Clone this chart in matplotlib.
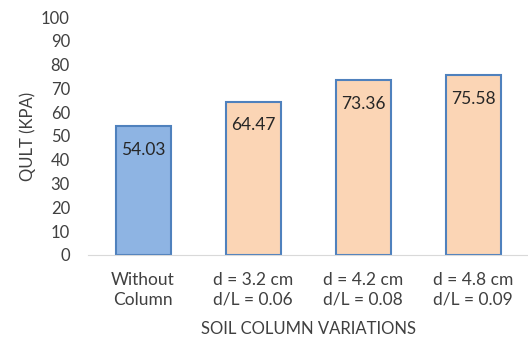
import matplotlib.pyplot as plt

plt.rcParams['font.family'] = ['Lato', 'DejaVu Sans']

categories = ["Without\nColumn", "d = 3.2 cm\nd/L = 0.06", "d = 4.2 cm\nd/L = 0.08", "d = 4.8 cm\nd/L = 0.09"]
qult = [54.03, 64.47, 73.36, 75.58]
fills = ["#8EB4E3", "#FBD5B5", "#FBD5B5", "#FBD5B5"]

fig = plt.figure(figsize=(5.28, 3.45), dpi=100)
ax = fig.add_axes([0.1667, 0.2609, 0.8333, 0.6898])

x = range(len(categories))
bars = ax.bar(x, qult, width=0.5, color=fills, edgecolor="#4F81BD", linewidth=1.5)
for b, v in zip(bars, qult):
    ax.annotate("%.2f" % v, (b.get_x() + b.get_width() / 2, v), xytext=(0, -17),
                textcoords="offset points", ha="center", va="center",
                fontsize=12.5, color="#262626")

ax.set_xlim(-0.5, 3.5)
ax.set_ylim(0, 100)
ax.set_yticks(range(0, 101, 10))
ax.set_xticks(list(x))
ax.set_xticklabels(categories, fontsize=12.5, color="#404040", linespacing=1.3)
ax.tick_params(axis="y", length=0, pad=13, labelsize=12, labelcolor="#404040")
ax.tick_params(axis="x", length=0, pad=12)
for s in ["top", "right", "left"]:
    ax.spines[s].set_visible(False)
ax.spines["bottom"].set_color("#D9D9D9")
ax.set_ylabel("QULT (KPA)", fontsize=12, color="#404040", labelpad=4)
ax.set_xlabel("SOIL COLUMN VARIATIONS", fontsize=12, color="#404040", labelpad=10)

fig.savefig("out.png", dpi=100)
